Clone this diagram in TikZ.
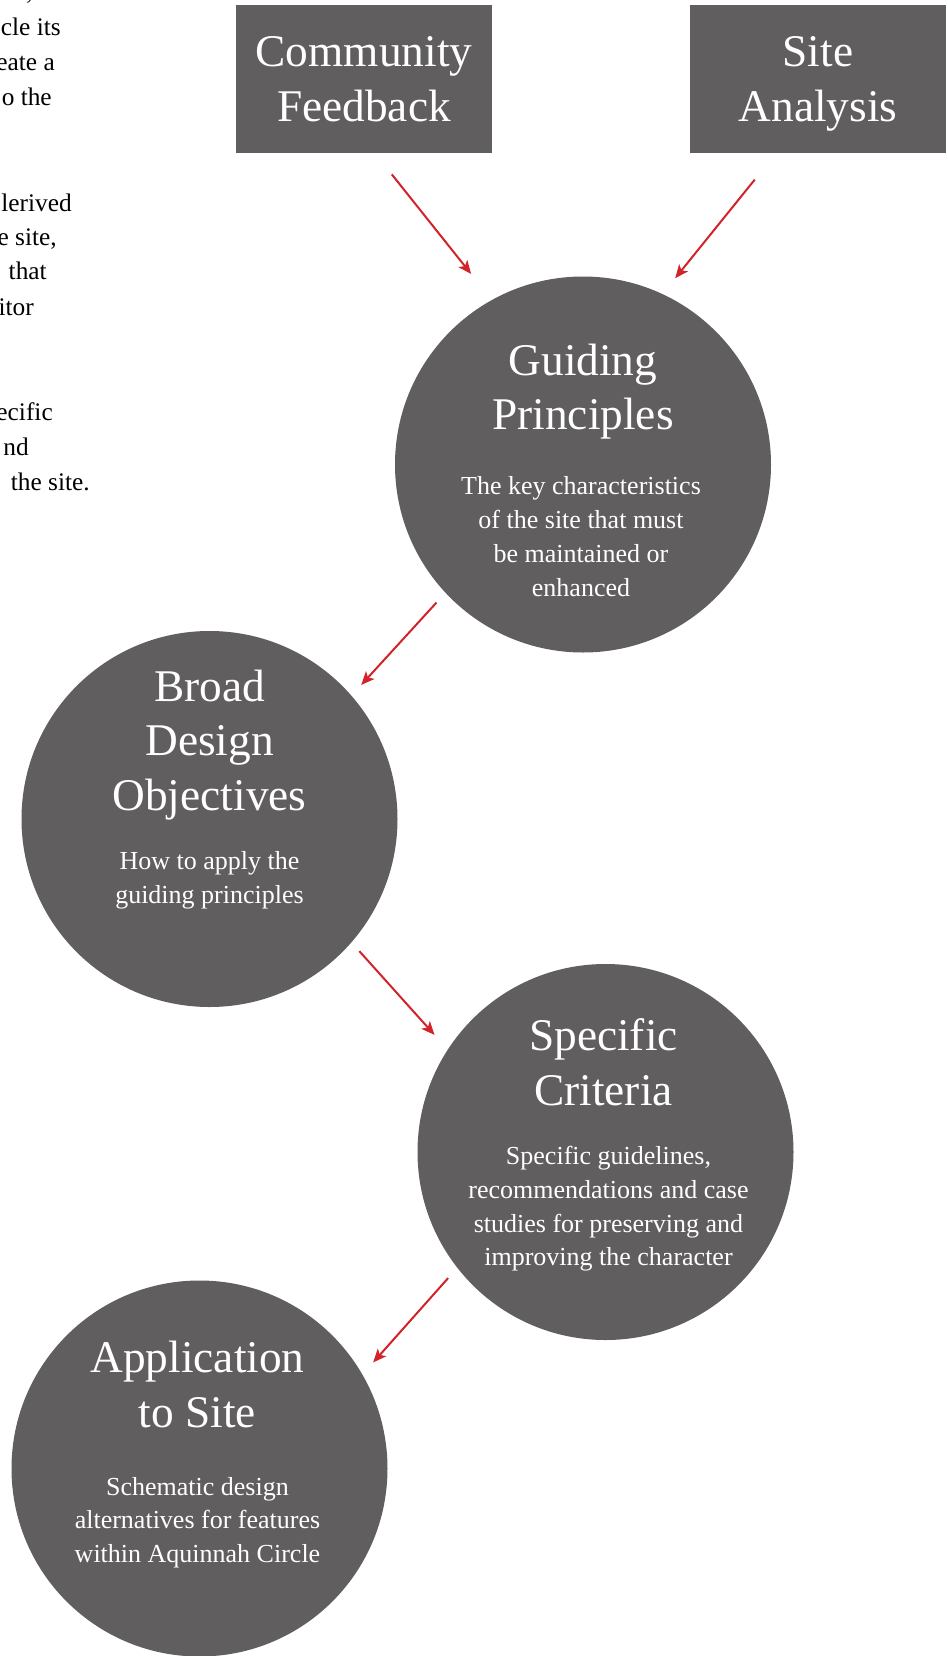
\documentclass[tikz,border=0pt]{standalone}
\usepackage{xcolor}
\usepackage{tikz}
\usepackage{fontspec}
\setmainfont{Liberation Serif}
\usetikzlibrary{shapes,arrows.meta,positioning,calc}
\definecolor{stageshade}{HTML}{605E5F}
\definecolor{stagearrow}{HTML}{D2232A}
\tikzstyle{inputbox} = [rectangle, fill=stageshade, text=white, minimum width=192pt,
    minimum height=111pt, align=center, text depth=0pt, font=\fontsize{34}{41}\selectfont]
\tikzstyle{stage} = [circle, fill=stageshade, minimum size=282pt, inner sep=0pt]
\tikzstyle{stagetitle} = [text=white, align=center, font=\fontsize{34}{41}\selectfont]
\tikzstyle{stagenote} = [text=white, align=center, font=\fontsize{19.5}{25.3}\selectfont]
\tikzstyle{sidetext} = [anchor=base east, inner sep=0pt, font=\fontsize{19}{25}\selectfont]
\tikzstyle{arrow} = [-{Stealth[length=10pt, width=8.5pt, inset=2.5pt]}, line width=1.5pt, stagearrow]

\begin{document}
\begin{tikzpicture}[x=0.75pt, y=-0.75pt]
\useasboundingbox (0,0) rectangle (947,1656);

% body text column running off the left edge
\node[sidetext] (side0) at (33,-1) {,};
\foreach \frag/\xend/\ybase [count=\i] in {{cle its}/61/36, {eate a}/55/70.7, {o the}/52/105,
    {lerived}/72/211, {e site,}/57/245, {that}/47/279.3, {itor}/34/315,
    {ecific}/53/420.7, {nd}/29/455, {the site.}/90/490}
  \node[sidetext] (side\i) at (\xend,\ybase) {\frag};

\node[inputbox] (feedback) at (364,79) {Community\\Feedback};
\node[inputbox] (analysis) at (818,79) {Site\\Analysis};

\node[stage] (guide) at (583,464.5) {};
\node[stagetitle] (guidetitle) at ($(guide)+(0,-73)$) {Guiding\\Principles};
\node[stagenote] (guidenote) at ($(guide)+(-2,72)$) {The key characteristics\\of the site that must\\be maintained or\\enhanced};

\node[stage] (broad) at (209.5,819) {};
\node[stagetitle] (broadtitle) at ($(broad)+(0,-74)$) {Broad\\Design\\Objectives};
\node[stagenote] (broadnote) at ($(broad)+(0,61)$) {How to apply the\\guiding principles};

\node[stage] (specific) at (605.5,1152) {};
\node[stagetitle] (specifictitle) at ($(specific)+(-2,-90)$) {Specific\\Criteria};
\node[stagenote] (specificnote) at ($(specific)+(3,57)$) {Specific guidelines,\\recommendations and case\\studies for preserving and\\improving the character};

\node[stage] (application) at (199.5,1468.5) {};
\node[stagetitle] (applicationtitle) at ($(application)+(-2,-84)$) {Application\\to Site};
\node[stagenote] (applicationnote) at ($(application)+(-2,54)$) {Schematic design\\alternatives for features\\within Aquinnah Circle};

\draw[arrow, shorten <=20.2pt, shorten >=24.8pt] ($(feedback.south)+(11,0)$) -- (guide.119);
\draw[arrow, shorten <=25.4pt, shorten >=15.1pt] ($(analysis.south)+(-42,0)$) -- (guide.65);
\draw[arrow, shorten <=9.8pt, shorten >=10.7pt] (guide.223) -- (broad.41);
\draw[arrow, shorten <=8.7pt, shorten >=14.7pt] (broad.-41) -- (specific.147);
\draw[arrow, shorten <=10.2pt, shorten >=12pt] (specific.218) -- (application.30);

\end{tikzpicture}
\end{document}
